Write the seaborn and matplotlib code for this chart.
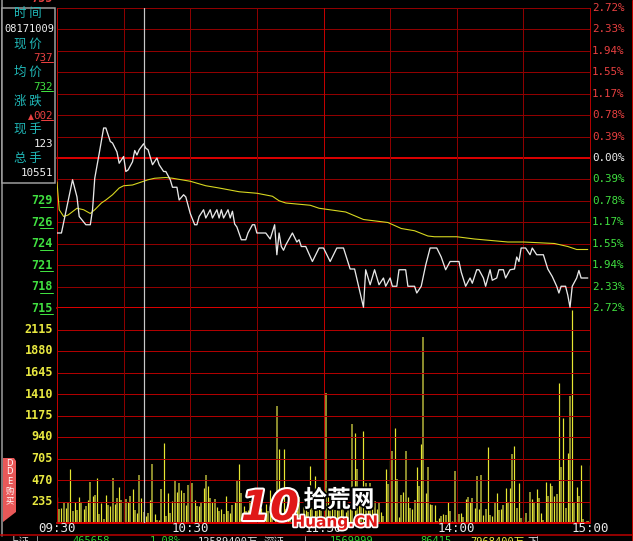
import matplotlib
matplotlib.use('Agg')
import matplotlib.pyplot as plt
import matplotlib.transforms as mtransforms
import matplotlib.patheffects as pe
from matplotlib.lines import Line2D
from matplotlib.patches import Rectangle, Polygon
import pandas as pd
import seaborn as sns

# ---------------- data ----------------
prev_close = 7.35
price_span = 0.20          # 2.72 % of prev close

price_minute = [0, 2, 7, 9, 10, 13, 15, 16, 17, 19, 21, 22, 24, 25, 27, 28, 30, 31, 32, 34,
                35, 36, 37, 39, 40, 41, 43, 45, 46, 48, 49, 51, 52, 54, 55, 57, 58, 60, 62, 63,
                64, 66, 67, 69, 70, 72, 73, 74, 75, 77, 78, 79, 80, 81, 83, 85, 86, 88, 89, 90,
                94, 96, 98, 99, 100, 101, 102, 103, 106, 108, 109, 110, 112, 115, 118, 120, 123,
                126, 129, 132, 134, 138, 139, 141, 143, 145, 147, 148, 150, 151, 153, 154, 157,
                158, 161, 162, 164, 166, 168, 171, 173, 175, 177, 181, 182, 184, 186, 187, 189,
                190, 192, 193, 195, 196, 198, 199, 201, 202, 204, 206, 207, 208, 209, 211, 213,
                214, 216, 219, 221, 223, 225, 226, 227, 229, 230, 231, 232, 234, 235, 236, 239]
price_value = [7.250, 7.250, 7.321, 7.298, 7.272, 7.261, 7.261, 7.281, 7.323, 7.356, 7.390,
               7.390, 7.372, 7.370, 7.358, 7.343, 7.352, 7.332, 7.334, 7.345, 7.360, 7.354,
               7.361, 7.369, 7.363, 7.361, 7.341, 7.350, 7.341, 7.332, 7.332, 7.321, 7.311,
               7.311, 7.294, 7.301, 7.298, 7.276, 7.261, 7.261, 7.272, 7.281, 7.270, 7.281,
               7.270, 7.281, 7.270, 7.281, 7.270, 7.281, 7.270, 7.279, 7.262, 7.258, 7.241,
               7.241, 7.250, 7.261, 7.261, 7.250, 7.250, 7.242, 7.261, 7.221, 7.250, 7.232,
               7.227, 7.234, 7.250, 7.238, 7.241, 7.232, 7.232, 7.212, 7.230, 7.230, 7.212,
               7.230, 7.230, 7.202, 7.202, 7.151, 7.201, 7.181, 7.201, 7.181, 7.190, 7.179,
               7.190, 7.179, 7.179, 7.201, 7.201, 7.179, 7.179, 7.170, 7.179, 7.207, 7.230,
               7.230, 7.218, 7.201, 7.212, 7.212, 7.198, 7.179, 7.190, 7.183, 7.201, 7.201,
               7.190, 7.179, 7.201, 7.187, 7.190, 7.201, 7.201, 7.190, 7.201, 7.202, 7.218,
               7.212, 7.230, 7.230, 7.221, 7.230, 7.221, 7.221, 7.202, 7.192, 7.179, 7.170,
               7.179, 7.179, 7.167, 7.151, 7.179, 7.190, 7.200, 7.190, 7.190]

avg_minute = [0, 1, 3, 5, 9, 12, 15, 17, 20, 22, 25, 28, 30, 34, 38, 41, 44, 49, 52, 60, 67,
              73, 82, 90, 97, 100, 103, 114, 118, 130, 138, 149, 155, 161, 167, 170, 180, 188,
              203, 210, 224, 230, 234, 239]
avg_value = [7.318, 7.281, 7.272, 7.274, 7.283, 7.281, 7.276, 7.281, 7.290, 7.294, 7.301,
             7.310, 7.313, 7.314, 7.318, 7.321, 7.323, 7.324, 7.323, 7.319, 7.313, 7.310,
             7.305, 7.303, 7.299, 7.293, 7.290, 7.287, 7.283, 7.278, 7.268, 7.264, 7.256,
             7.253, 7.246, 7.245, 7.245, 7.242, 7.238, 7.238, 7.236, 7.232, 7.228, 7.228]

volume = [281, 157, 164, 216, 160, 216, 592, 128, 227, 146, 281, 234, 157, 185, 256, 446, 300,
          311, 497, 95, 223, 44, 311, 201, 190, 497, 212, 278, 395, 252, 234, 267, 234, 292,
          373, 139, 113, 530, 278, 117, 80, 113, 252, 640, 102, 37, 37, 376, 877, 80, 325, 113,
          245, 471, 344, 439, 362, 333, 201, 420, 435, 439, 256, 190, 190, 234, 384, 526, 406,
          278, 234, 267, 172, 132, 157, 95, 300, 128, 113, 201, 227,
          464, 643, 329, 190, 135, 142, 245, 150, 120, 200, 90, 160, 110, 210, 130, 362, 180,
          240, 1277, 804, 200, 804, 150, 260, 120, 190, 289, 140, 280, 100, 170, 230, 120, 625,
          160, 519, 365, 210, 150, 250, 1416, 300, 180, 240, 140, 200, 260, 391, 170, 120, 230,
          190, 1079, 987, 592, 210, 280, 1001, 439, 320, 442, 180, 245, 150, 234, 120, 80, 585,
          428, 694, 782, 1038, 482, 62, 307, 336, 782, 280, 164,
          154, 252, 607, 406, 866, 2032, 333, 607, 205, 201, 197, 18, 58, 80, 102, 91, 227, 132,
          26, 563, 48, 99, 113, 62, 267, 285, 227, 278, 164, 515, 157, 530, 84, 154, 826, 91,
          80, 216, 329, 146, 157, 201, 380, 215, 387, 749, 841, 164, 442, 51, 62, 106, 26, 340,
          267, 234, 369, 278, 106, 37, 453, 292, 439, 409, 300, 322, 1535, 610, 1148, 164, 767,
          1385, 2328, 234, 398, 300, 636, 44, 18, 18, 629]
vol_minute = list(range(len(volume)))

pct_up_labels = ['2.72%', '2.33%', '1.94%', '1.55%', '1.17%', '0.78%', '0.39%']
pct_zero_label = '0.00%'
pct_down_labels = ['0.39%', '0.78%', '1.17%', '1.55%', '1.94%', '2.33%', '2.72%']
price_labels = ['729', '726', '724', '721', '718', '715']
top_price_label = '755'
vol_labels = ['2115', '1880', '1645', '1410', '1175', '940', '705', '470', '235']
vol_step = 235
time_labels = ['09:30', '10:30', '11:30', '14:00', '15:00']
time_label_minutes = [0, 60, 120, 180, 240]
cursor_minute = 39

info_titles = ['时 间', '现 价', '均 价', '涨 跌', '现 手', '总 手']
info_time = '08171009'
info_price = '737'
info_avg = '732'
info_change = '002'
info_hand = '123'
info_total = '10551'

status_texts = [('上证', 8, '#d8d8d8'), ('465658', 72, '#30d030'), ('1.08%', 150, '#30d030'),
                ('12589400万', 198, '#e0e0e0'), ('深证', 264, '#e0e0e0'),
                ('1569999', 330, '#30d030'), ('86415', 420, '#30d030'),
                ('7968400万', 470, '#e8e840'), ('下', 527, '#e0e0e0')]

# ---------------- style ----------------
sns.set_theme(style='dark', rc={'axes.facecolor': 'black', 'figure.facecolor': 'black'})
plt.rcParams['font.family'] = ['DejaVu Sans Mono', 'Noto Sans CJK SC']
CJK = ['Noto Sans CJK SC', 'DejaVu Sans']

W, H = 633, 541
PX = 0.72  # one pixel in points at dpi 100


def fx(x):
    return x / W


def fy(y):
    return 1 - y / H


fig = plt.figure(figsize=(W / 100, H / 100), dpi=100, facecolor='black')
X0, X1 = 57, 590
ax_p = fig.add_axes([fx(X0), fy(308), (X1 - X0) / W, 300 / H])
ax_v = fig.add_axes([fx(X0), fy(523), (X1 - X0) / W, 215 / H])
for ax in (ax_p, ax_v):
    ax.set_facecolor('black')
    ax.set_xlim(0, 240)
    ax.set_xticks([])
    ax.set_yticks([])
    for s in ax.spines.values():
        s.set_visible(False)
    ax.grid(False)
ax_p.set_ylim(prev_close - price_span, prev_close + price_span)
ax_v.set_ylim(0, vol_step * 10)

DARK = '#8c0000'
BRIGHT = '#d80000'
# price grid
for k in range(-7, 8):
    yv = prev_close + k * price_span / 7
    if k in (0, -7):
        ax_p.axhline(yv, color=BRIGHT, lw=2 * PX, zorder=2, clip_on=False)
    else:
        ax_p.axhline(yv, color='#900000', lw=PX, zorder=2, clip_on=False)
# volume grid
for k in range(1, 10):
    ax_v.axhline(k * vol_step, color='#b00000', lw=PX, zorder=2)
ax_v.axhline(0, color=BRIGHT, lw=2 * PX, zorder=2, clip_on=False)
# vertical grid
for ax in (ax_p, ax_v):
    for m in range(30, 240, 30):
        ax.axvline(m, color='#c00000' if m == 120 else DARK, lw=PX, zorder=2)
    ax.axvline(0, color='#c00000', lw=PX, zorder=2, clip_on=False)
    ax.axvline(240, color='#b00000', lw=PX, zorder=2, clip_on=False)

# volume bars
bright = [i for i in range(len(volume)) if i % 2 == 0]
olive = [i for i in range(len(volume)) if i % 2 == 1]
ax_v.vlines([vol_minute[i] for i in olive], 0, [volume[i] for i in olive],
            colors='#8a8a2c', lw=2 * PX, zorder=1)
ax_v.vlines([vol_minute[i] for i in bright], 0, [volume[i] for i in bright],
            colors='#e6e632', lw=1.2 * PX, zorder=1)

# price & average lines
df_p = pd.DataFrame({'minute': price_minute, 'price': price_value})
df_a = pd.DataFrame({'minute': avg_minute, 'avg': avg_value})
sns.lineplot(data=df_a, x='minute', y='avg', ax=ax_p, color='#d8d820', lw=1.1 * PX,
             sort=False, estimator=None, legend=False, zorder=4)
sns.lineplot(data=df_p, x='minute', y='price', ax=ax_p, color='#e8e8e8', lw=1.3 * PX,
             sort=False, estimator=None, legend=False, zorder=5)
for ax in (ax_p, ax_v):
    ax.set_xlabel('')
    ax.set_ylabel('')
    ax.set_xlim(0, 240)
ax_p.set_ylim(prev_close - price_span, prev_close + price_span)

# cursor
ax_p.axvline(cursor_minute, color='#c8c8c8', lw=1.2 * PX, zorder=6)
ax_v.axvline(cursor_minute, color='#c8c8c8', lw=1.2 * PX, zorder=6)

# ---------------- labels ----------------
bp = mtransforms.blended_transform_factory(fig.transFigure, ax_p.transData)
bv = mtransforms.blended_transform_factory(fig.transFigure, ax_v.transData)
bp_ul = mtransforms.offset_copy(bp, fig=fig, x=0, y=-6, units='dots')

for i, lab in enumerate(pct_up_labels):
    yv = prev_close + (7 - i) * price_span / 7
    ax_p.text(fx(592), yv, lab, transform=bp, color='#e84040', fontsize=7.8,
              va='center', ha='left', clip_on=False)
ax_p.text(fx(592), prev_close, pct_zero_label, transform=bp, color='#f0f0f0', fontsize=7.8,
          va='center', ha='left', clip_on=False)
for i, lab in enumerate(pct_down_labels):
    yv = prev_close - (i + 1) * price_span / 7
    ax_p.text(fx(592), yv, lab, transform=bp, color='#40e040', fontsize=7.8,
              va='center', ha='left', clip_on=False)

for i, lab in enumerate(price_labels):
    yv = prev_close - (i + 2) * price_span / 7
    ax_p.text(fx(53), yv, lab, transform=bp, color='#40e040', fontsize=8.5,
              fontweight='bold', va='center', ha='right', clip_on=False)
    fig.add_artist(Line2D([fx(40), fx(53)], [yv, yv], transform=bp_ul,
                          color='#40e040', lw=PX))

for lab in vol_labels:
    ax_v.text(fx(53), int(lab), lab, transform=bv, color='#e8e840', fontsize=8.5,
              fontweight='bold', va='center', ha='right', clip_on=False)

bt = mtransforms.blended_transform_factory(ax_v.transData, fig.transFigure)
for lab, m in zip(time_labels, time_label_minutes):
    ax_v.text(m, fy(529), lab, transform=bt, color='#e8e8e8', fontsize=9,
              va='center', ha='center', clip_on=False)

fig.text(fx(53), fy(-1), top_price_label, color='#e84040', fontsize=8.5,
         fontweight='bold', ha='right', va='center')

# ---------------- info box ----------------
fig.add_artist(Rectangle((fx(2), fy(183)), fx(55) - fx(2), fy(8) - fy(183),
                         transform=fig.transFigure, facecolor='black',
                         edgecolor='#a0a0a0', lw=1.5 * PX, zorder=10))
title_y = [14, 44, 72, 101, 130, 159]
for t, yy in zip(info_titles, title_y):
    fig.text(fx(28), fy(yy), t, color='#20b8b8', fontsize=9, family=CJK,
             ha='center', va='center', zorder=11)
fig.text(fx(29), fy(29), info_time, color='#f0f0f0', fontsize=7.5, ha='center',
         va='center', zorder=11)
fig.text(fx(53), fy(58), info_price, color='#e84040', fontsize=7.8, ha='right',
         va='center', zorder=11)
fig.add_artist(Line2D([fx(41), fx(53)], [fy(62), fy(62)], color='#e84040', lw=PX, zorder=11))
fig.text(fx(53), fy(87), info_avg, color='#40e040', fontsize=7.8, ha='right',
         va='center', zorder=11)
fig.add_artist(Line2D([fx(41), fx(53)], [fy(91), fy(91)], color='#40e040', lw=PX, zorder=11))
fig.text(fx(53), fy(116), info_change, color='#e84040', fontsize=7.8, ha='right',
         va='center', zorder=11)
fig.text(fx(34), fy(117), '▲', color='#e84040', fontsize=5.5, ha='right',
         va='center', zorder=11, family=['DejaVu Sans'])
fig.add_artist(Line2D([fx(41), fx(53)], [fy(120), fy(120)], color='#e84040', lw=PX, zorder=11))
fig.text(fx(53), fy(144), info_hand, color='#f0f0f0', fontsize=7.8, ha='right',
         va='center', zorder=11)
fig.text(fx(53), fy(173), info_total, color='#f0f0f0', fontsize=7.8, ha='right',
         va='center', zorder=11)

# left grey frame line and right red frame
fig.add_artist(Line2D([fx(2), fx(2)], [fy(0), fy(536)], color='#a0a0a0', lw=1.5 * PX))
fig.add_artist(Line2D([fx(631.5), fx(631.5)], [fy(0), fy(541)], color='#c00000', lw=PX))

# DDE tab
fig.add_artist(Polygon([(fx(3), fy(458)), (fx(14), fy(458)), (fx(16), fy(461)),
                        (fx(16), fy(512)), (fx(3), fy(522))], closed=True,
                       transform=fig.transFigure, facecolor='#e85858', edgecolor='none',
                       zorder=10))
for ch, yy in zip(['D', 'D', 'E', '购', '买'], [464, 472, 481, 491, 501]):
    fig.text(fx(9.5), fy(yy), ch, color='white', fontsize=6, ha='center', va='center',
             family=['DejaVu Sans', 'Noto Sans CJK SC'], zorder=11)

# status bar
fig.add_artist(Line2D([0, 1], [fy(535), fy(535)], color='#c00000', lw=1.5 * PX))
for xx in (37, 305, 537):
    fig.add_artist(Line2D([fx(xx), fx(xx)], [fy(536), fy(541)], color='#909090', lw=PX))
for txt, xx, col in status_texts:
    fig.text(fx(xx), fy(536.5), txt, color=col, fontsize=7.5, ha='left', va='top',
             family=['DejaVu Sans Mono', 'Noto Sans CJK SC'])

# watermark
fig.text(fx(270), fy(508), '10', color='#e01818', fontsize=30, fontweight='bold',
         style='italic', ha='center', va='center', family=['DejaVu Sans'], zorder=20,
         path_effects=[pe.withStroke(linewidth=3, foreground='white')])
fig.text(fx(339), fy(500), '拾荒网', color='white', fontsize=17, family=CJK,
         fontweight='bold', ha='center', va='center', zorder=20,
         path_effects=[pe.withStroke(linewidth=2.5, foreground='black')])
fig.text(fx(335), fy(522), 'Huang.CN', color='#e01818', fontsize=11, fontweight='bold',
         family=['DejaVu Sans'], ha='center', va='center', zorder=20,
         path_effects=[pe.withStroke(linewidth=2.5, foreground='white')])

fig.savefig('out.png', dpi=100, facecolor='black')
